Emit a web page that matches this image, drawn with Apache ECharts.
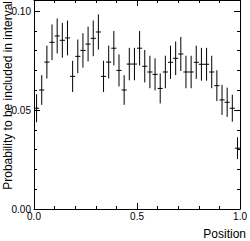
<!DOCTYPE html>
<html>
<head>
<meta charset="utf-8">
<style>
html,body{margin:0;padding:0;background:#fff;}
#c{width:250px;height:241px;}
</style>
<script src="https://cdn.jsdelivr.net/npm/echarts@6/dist/echarts.min.js"></script>
</head>
<body>
<div id="c"></div>
<script>
// Bin centres (Position) and half bin width
const binCenters = [0.0125,0.0375,0.0625,0.0875,0.1125,0.1375,0.1625,0.1875,0.2125,0.2375,
  0.2625,0.2875,0.3125,0.3375,0.3625,0.3875,0.4125,0.4375,0.4625,0.4875,
  0.5125,0.5375,0.5625,0.5875,0.6125,0.6375,0.6625,0.6875,0.7125,0.7375,
  0.7625,0.7875,0.8125,0.8375,0.8625,0.8875,0.9125,0.9375,0.9625,0.9875];
const binHalfWidth = 0.0125;
// Probability to be included in interval
const probability = [0.0509,0.0601,0.0742,0.0842,0.0874,0.0852,0.0864,0.0670,0.0771,0.0801,
  0.0833,0.0862,0.0894,0.0670,0.0742,0.0812,0.0700,0.0601,0.0732,0.0732,
  0.0812,0.0721,0.0692,0.0680,0.0609,0.0692,0.0741,0.0761,0.0783,0.0692,
  0.0692,0.0741,0.0731,0.0731,0.0692,0.0623,0.0551,0.0539,0.0509,0.0307];
// Statistical errors (half-length of vertical bars)
const probError = [0.0071,0.0075,0.0083,0.0090,0.0088,0.0088,0.0088,0.0079,0.0085,0.0087,
  0.0088,0.0090,0.0089,0.0079,0.0083,0.0087,0.0081,0.0075,0.0082,0.0082,
  0.0087,0.0082,0.0082,0.0081,0.0076,0.0082,0.0084,0.0085,0.0086,0.0082,
  0.0082,0.0084,0.0083,0.0083,0.0082,0.0078,0.0076,0.0074,0.0068,0.0055];
const xTickValues = [0.0, 0.5, 1.0];
const yTickValues = [0.00, 0.05, 0.10];
const xTitle = 'Position';
const yTitle = 'Probability to be included in interval';

const data = binCenters.map((x, i) => [x, probability[i], probError[i]]);

const FONT = '"Liberation Sans", Arial, sans-serif';
const isTick = (v, list) => list.some(t => Math.abs(t - v) < 1e-9);

const baseAxis = {
  axisLine: {show: true, onZero: false, lineStyle: {color: '#000', width: 1}},
  axisTick: {show: true, inside: true, length: 6, lineStyle: {color: '#000'}},
  minorTick: {show: true, splitNumber: 5, length: 3, lineStyle: {color: '#000'}},
  splitLine: {show: false},
  minorSplitLine: {show: false}
};

const chart = echarts.init(document.getElementById('c'), null, {renderer: 'svg'});
chart.setOption({
  animation: false,
  backgroundColor: '#fff',
  grid: {left: 34, right: 6, top: 0, bottom: 32, containLabel: false},
  xAxis: [
    Object.assign({}, baseAxis, {
      type: 'value', min: 0, max: 1, interval: 0.5, position: 'bottom',
      axisLabel: {show: true, margin: 2, color: '#000', fontSize: 10, fontFamily: FONT,
        formatter: v => isTick(v, xTickValues) ? v.toFixed(1) : ''}
    }),
    Object.assign({}, baseAxis, {
      type: 'value', min: 0, max: 1, interval: 0.5, position: 'top',
      axisLabel: {show: false}
    })
  ],
  yAxis: [
    Object.assign({}, baseAxis, {
      type: 'value', min: 0, max: 0.10556, interval: 0.05, position: 'left',
      axisLabel: {show: true, margin: 3, color: '#000', fontSize: 10, fontFamily: FONT,
        formatter: v => isTick(v, yTickValues) ? v.toFixed(2) : ''}
    }),
    Object.assign({}, baseAxis, {
      type: 'value', min: 0, max: 0.10556, interval: 0.05, position: 'right',
      axisLabel: {show: false}
    })
  ],
  graphic: [
    {type: 'text', x: 246, y: 240, style: {text: xTitle, fontSize: 12, fontFamily: FONT, fill: '#000', textAlign: 'right', textVerticalAlign: 'bottom'}},
    {type: 'text', x: 2, y: 1, rotation: Math.PI / 2, style: {text: yTitle, fontSize: 12, fontFamily: FONT, fill: '#000', textAlign: 'right', textVerticalAlign: 'top'}}
  ],
  series: [{
    type: 'custom',
    xAxisIndex: 0, yAxisIndex: 0,
    data: data,
    clip: false,
    renderItem: function (params, api) {
      const x = api.value(0), y = api.value(1), e = api.value(2);
      const l = api.coord([x - binHalfWidth, y]);
      const r = api.coord([x + binHalfWidth, y]);
      const t = api.coord([x, y + e]);
      const b = api.coord([x, y - e]);
      const st = {stroke: '#000', lineWidth: 1, fill: null};
      return {type: 'group', children: [
        {type: 'line', shape: {x1: l[0], y1: l[1], x2: r[0], y2: r[1]}, style: st},
        {type: 'line', shape: {x1: t[0], y1: t[1], x2: b[0], y2: b[1]}, style: st}
      ]};
    }
  }]
});
</script>
</body>
</html>
